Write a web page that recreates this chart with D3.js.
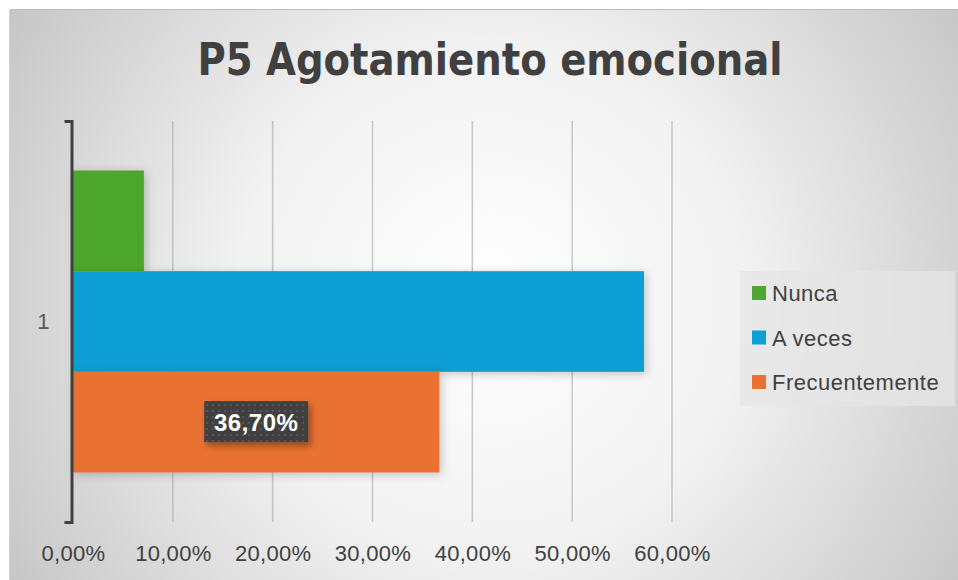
<!DOCTYPE html>
<html>
<head>
<meta charset="utf-8">
<script src="https://cdn.jsdelivr.net/npm/d3@7"></script>
<style>
  body { margin: 0; background: #fff; }
  svg { display: block; }
</style>
</head>
<body>
<div id="chart"></div>
<script>
'use strict';

const title = 'P5 Agotamiento emocional';
const categories = ['1'];
const seriesNames = ['Nunca', 'A veces', 'Frecuentemente'];
const seriesValues = [0.071, 0.572, 0.367];
const seriesColors = ['#4ea72e', '#0f9ed5', '#e97132'];
const tickValues = [0, 0.1, 0.2, 0.3, 0.4, 0.5, 0.6];
const labelledSeries = ['Frecuentemente'];

const width = 958, height = 580;
const margin = { top: 121, right: 287, bottom: 58, left: 73 };

const locale = d3.formatLocale({ decimal: ',', thousands: '.', grouping: [3], currency: ['', ''] });
const pct = locale.format('.2%');

const svg = d3.select('#chart').append('svg')
  .attr('width', width).attr('height', height);

const defs = svg.append('defs');

// background gradient
let grad = defs.append('radialGradient').attr('id', 'bg')
  .attr('gradientUnits', 'userSpaceOnUse')
  .attr('cx', 490).attr('cy', 300).attr('r', 560);
grad.append('stop').attr('offset', '0%').attr('stop-color', '#ffffff');
grad.append('stop').attr('offset', '45%').attr('stop-color', '#f2f2f2');
grad.append('stop').attr('offset', '100%').attr('stop-color', '#c6c6c6');

let shadow = defs.append('filter').attr('id', 'shadow')
  .attr('x', '-20%').attr('y', '-20%').attr('width', '140%').attr('height', '140%');
shadow.append('feDropShadow').attr('dx', 2).attr('dy', 2)
  .attr('stdDeviation', 5).attr('flood-color', '#000').attr('flood-opacity', 0.22);

let boxShadow = defs.append('filter').attr('id', 'boxShadow')
  .attr('x', '-20%').attr('y', '-30%').attr('width', '150%').attr('height', '170%');
boxShadow.append('feDropShadow').attr('dx', 3).attr('dy', 4)
  .attr('stdDeviation', 3).attr('flood-color', '#000').attr('flood-opacity', 0.35);

let dots = defs.append('pattern').attr('id', 'dots')
  .attr('patternUnits', 'userSpaceOnUse').attr('width', 6).attr('height', 6);
dots.append('rect').attr('width', 6).attr('height', 6).attr('fill', '#404040');
dots.append('rect').attr('x', 2).attr('y', 2).attr('width', 2).attr('height', 2).attr('fill', '#575757');

svg.append('rect').attr('x', 9).attr('y', 9)
  .attr('width', width - 9).attr('height', height - 9)
  .attr('fill', 'url(#bg)');
svg.append('line').attr('x1', 9).attr('x2', width).attr('y1', 9.5).attr('y2', 9.5)
  .attr('stroke', '#bdbdbd');
svg.append('line').attr('x1', 9.5).attr('x2', 9.5).attr('y1', 9).attr('y2', height)
  .attr('stroke', '#d0d0d0');

// title
svg.append('text')
  .attr('x', 490).attr('y', 75)
  .attr('text-anchor', 'middle')
  .attr('textLength', 585).attr('lengthAdjust', 'spacingAndGlyphs')
  .style('font-family', '"Liberation Sans Narrow", "DejaVu Sans Condensed", sans-serif')
  .style('font-weight', 'bold').style('font-size', '44px')
  .style('fill', '#404040')
  .text(title);

const x = d3.scaleLinear().domain([0, 0.6]).range([margin.left, width - margin.right + 1]);
const y = d3.scaleBand().domain(categories)
  .range([margin.top, height - margin.bottom])
  .paddingInner(0).paddingOuter(0.164);
const ySeries = d3.scaleBand().domain(seriesNames).range([0, y.bandwidth()]);

// gridlines
svg.append('g').selectAll('line').data(tickValues.slice(1)).enter().append('line')
  .attr('x1', d => x(d)).attr('x2', d => x(d))
  .attr('y1', margin.top).attr('y2', height - margin.bottom)
  .attr('stroke', '#a6a6a6').attr('stroke-opacity', 0.6).attr('stroke-width', 1.5);

// bars
let bars = svg.append('g');
categories.forEach(cat => {
  seriesNames.forEach((name, i) => {
    bars.append('rect')
      .attr('x', x(0))
      .attr('y', y(cat) + ySeries(name))
      .attr('width', x(seriesValues[i]) - x(0))
      .attr('height', ySeries.bandwidth())
      .attr('fill', seriesColors[i])
      .attr('filter', 'url(#shadow)');
  });
});

// data label
categories.forEach(cat => {
  seriesNames.forEach((name, i) => {
    if (labelledSeries.indexOf(name) < 0) return;
    let cx = (x(0) + x(seriesValues[i])) / 2;
    let cy = y(cat) + ySeries(name) + ySeries.bandwidth() / 2;
    let g = svg.append('g');
    g.append('rect')
      .attr('x', cx - 52).attr('y', cy - 21)
      .attr('width', 104).attr('height', 41)
      .attr('fill', 'url(#dots)')
      .attr('filter', 'url(#boxShadow)');
    g.append('text')
      .attr('x', cx).attr('y', cy + 9)
      .attr('text-anchor', 'middle')
      .style('font-family', '"Liberation Sans", Arial, sans-serif')
      .style('font-weight', 'bold').style('font-size', '24px')
      .style('letter-spacing', '0.5px')
      .style('fill', '#ffffff')
      .text(pct(seriesValues[i]));
  });
});

// y axis (bracket)
let yAxis = d3.axisLeft(y).tickSizeInner(0).tickSizeOuter(7).tickPadding(22);
let yg = svg.append('g').attr('transform', `translate(${x(0) - 1.5},0)`).call(yAxis);
yg.select('.domain').attr('stroke', '#404040').attr('stroke-width', 3);
yg.selectAll('text')
  .style('font-family', '"Liberation Sans", Arial, sans-serif')
  .style('font-size', '22px').style('fill', '#595959');

// x axis
let xAxis = d3.axisBottom(x).tickValues(tickValues).tickFormat(pct).tickSize(0).tickPadding(23);
let xg = svg.append('g').attr('transform', `translate(0,${height - margin.bottom})`).call(xAxis);
xg.select('.domain').remove();
xg.selectAll('text')
  .style('font-family', '"Liberation Sans", Arial, sans-serif')
  .style('font-size', '22px').style('letter-spacing', '0.3px').style('fill', '#404040');

// legend
let legend = svg.append('g');
legend.append('rect')
  .attr('x', 740).attr('y', 271).attr('width', 215).attr('height', 135)
  .attr('fill', '#e6e6e6').attr('fill-opacity', 0.75);
seriesNames.forEach((name, i) => {
  let ly = 293 + i * 44.5;
  legend.append('rect')
    .attr('x', 752).attr('y', ly - 7).attr('width', 14).attr('height', 14)
    .attr('fill', seriesColors[i]);
  legend.append('text')
    .attr('x', 772).attr('y', ly + 8)
    .style('font-family', '"Liberation Sans", Arial, sans-serif')
    .style('font-size', '22px').style('letter-spacing', '0.5px').style('fill', '#404040')
    .text(name);
});
</script>
</body>
</html>
